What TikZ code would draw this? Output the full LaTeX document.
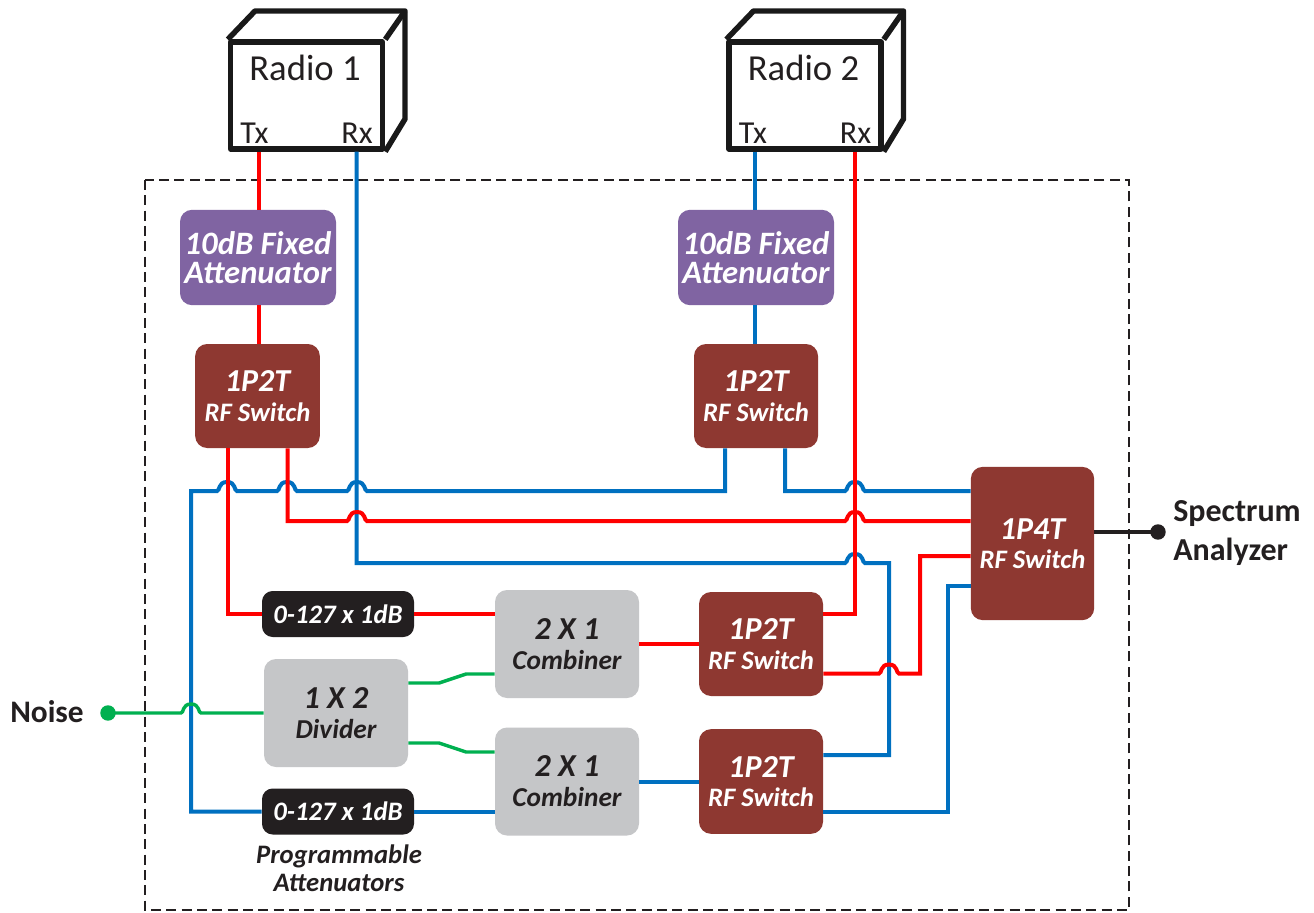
\documentclass[tikz,border=0pt]{standalone}
\usepackage{fontspec}
\setmainfont{Carlito}
\usetikzlibrary{calc}
\definecolor{rfred}{HTML}{FF0000}
\definecolor{rfblue}{HTML}{0070C0}
\definecolor{rfgreen}{HTML}{00B050}
\definecolor{swbrown}{HTML}{8E3831}
\definecolor{attpurple}{HTML}{8064A2}
\definecolor{combgray}{HTML}{C5C6C8}
\definecolor{atblack}{HTML}{231F20}
\newcommand{\fsz}[1]{\fontsize{#1}{#1}\selectfont}
\newcommand{\hopat}[2]{-- (#1-10,#2) .. controls (#1-7,#2) and (#1-9,#2-9) .. (#1,#2-9) .. controls (#1+9,#2-9) and (#1+7,#2) .. (#1+10,#2)}
\tikzset{
  blockbase/.style={inner sep=0pt,rounded corners=9pt,align=center,font=\bfseries\itshape},
  swbox/.style={blockbase,fill=swbrown,text=white},
  fixbox/.style={blockbase,fill=attpurple,text=white,minimum width=117pt,minimum height=71.5pt},
  progbox/.style={blockbase,fill=atblack,text=white,minimum width=114pt,minimum height=34.5pt,rounded corners=8pt},
  graybox/.style={blockbase,fill=combgray,text=atblack,minimum width=108pt,minimum height=81pt},
  radiofront/.style={draw=black!90,line width=4.1pt,fill=white,minimum width=114pt,minimum height=80pt,inner sep=0pt,line join=round},
  radioedge/.style={draw=black!90,line width=4.1pt,line join=round},
  radiotext/.style={inner sep=0pt,text=atblack},
  redw/.style={draw=rfred,line width=3pt,line join=miter},
  bluew/.style={draw=rfblue,line width=3pt,line join=miter},
  greenw/.style={draw=rfgreen,line width=2.6pt,line join=miter},
  dashbox/.style={draw=atblack,line width=1.1pt,dash pattern=on 7.5pt off 4pt},
  boldlabel/.style={inner sep=0pt,align=left,text=atblack,font=\bfseries\fsz{24}},
}
\begin{document}
\begin{tikzpicture}[x=0.75pt,y=-0.75pt]
\useasboundingbox (0,0) rectangle (1314,913);
\fill[white] (0,0) rectangle (1314,913);
\draw[dashbox] (145,180) rectangle (1129,910);

% radios
\node[radiofront] (radioA) at (306.5,95.5) {};
\draw[radioedge] (radioA.north west) -- (255,11) -- (405,11) -- (405,119) -- (radioA.south east);
\draw[radioedge] (radioA.north east) -- (405,11);
\node[radiotext,font=\fsz{27.5}] (radioAname) at (305,68) {Radio 1};
\node[radiotext,font=\fsz{24}] (radioAtx) at (254.5,133) {Tx};
\node[radiotext,font=\fsz{24}] (radioArx) at (357,133) {Rx};

\node[radiofront] (radioB) at (805,95.5) {};
\draw[radioedge] (radioB.north west) -- (753.5,11) -- (903.5,11) -- (903.5,119) -- (radioB.south east);
\draw[radioedge] (radioB.north east) -- (903.5,11);
\node[radiotext,font=\fsz{27.5}] (radioBname) at (803.5,68) {Radio 2};
\node[radiotext,font=\fsz{24}] (radioBtx) at (753,133) {Tx};
\node[radiotext,font=\fsz{24}] (radioBrx) at (855.5,133) {Rx};

% blocks
\node[fixbox] (fixA) at (258,257.5) {\fsz{24.5}10dB Fixed\\[4.5pt]\fsz{24.5}Attenuator};
\node[fixbox] (fixB) at (756,257.5) {\fsz{24.5}10dB Fixed\\[4.5pt]\fsz{24.5}Attenuator};
\node[swbox,minimum width=93.5pt,minimum height=78pt] (swA) at (257.5,396) {\fsz{24}1P2T\\[7pt]\fsz{20}RF Switch};
\node[swbox,minimum width=93pt,minimum height=78pt] (swB) at (756,396) {\fsz{24}1P2T\\[7pt]\fsz{20}RF Switch};
\node[swbox,minimum width=92.5pt,minimum height=115pt] (swMain) at (1032.5,543.5) {\fsz{24}1P4T\\[7pt]\fsz{20}RF Switch};
\node[progbox] (progA) at (338,614) {\fsz{20}0-127 x 1dB};
\node[progbox] (progB) at (338,811.5) {\fsz{20}0-127 x 1dB};
\node[graybox] (combA) at (567,644) {\fsz{24}2 X 1\\[7pt]\fsz{20.5}Combiner};
\node[graybox] (combB) at (567,781.5) {\fsz{24}2 X 1\\[7pt]\fsz{20.5}Combiner};
\node[graybox] (divider) at (336,713) {\fsz{24}1 X 2\\[7pt]\fsz{20.5}Divider};
\node[swbox,minimum width=93pt,minimum height=78pt] (swC) at (761,644) {\fsz{24}1P2T\\[7pt]\fsz{20}RF Switch};
\node[swbox,minimum width=93pt,minimum height=78.5pt] (swD) at (761,781.5) {\fsz{24}1P2T\\[7pt]\fsz{20}RF Switch};

% labels
\node[boldlabel,font=\bfseries\fsz{23.5}] (noiselabel) at (47,712) {Noise};
\node[boldlabel,anchor=west] (specA) at (1173,514) {Spectrum};
\node[boldlabel,anchor=west] (specB) at (1173,552) {Analyzer};
\node[inner sep=0pt,align=center,text=atblack,font=\bfseries\itshape\fsz{20}] (proglabel) at (339,868) {Programmable\\[1pt]Attenuators};

% free ends
\coordinate (noisept) at (108,713);
\coordinate (specpt) at (1158,532);

% blue connectors
\draw[bluew] ($(radioB.south)+(-50,0)$) -- (fixB.north -| 755,0);
\draw[bluew] (fixB.south -| 755,0) -- (swB.north -| 755,0);
\draw[bluew] ($(progB.west)$) -- (191,811.5) -- (191,491) \hopat{227}{491} \hopat{287}{491} \hopat{357}{491} -- (725,491) -- (swB.south -| 725,0);
\draw[bluew] (swB.south -| 785,0) -- (785,491) \hopat{855}{491} -- (swMain.west |- 0,491);
\draw[bluew] (radioA.south -| 356.5,0) -- (356.5,563) \hopat{855}{563} -- (889,563) -- (889,755) -- (swD.east |- 0,755);
\draw[bluew] (swD.east |- 0,811.5) -- (948,811.5) -- (948,586) -- (swMain.west |- 0,586);
\draw[bluew] (progB.east) -- (combB.west |- progB.east);
\draw[bluew] (combB.east) -- (swD.west);

% red connectors
\draw[redw] (radioA.south -| 258.5,0) -- (fixA.north -| 258.5,0);
\draw[redw] (fixA.south -| 258.5,0) -- (swA.north -| 258.5,0);
\draw[redw] (swA.south -| 227.5,0) -- (227.5,614) -- (progA.west);
\draw[redw] (progA.east) -- (combA.west |- progA.east);
\draw[redw] (combA.east) -- (swC.west);
\draw[redw] (swA.south -| 287.5,0) -- (287.5,521) \hopat{357}{521} \hopat{855}{521} -- (swMain.west |- 0,521);
\draw[redw] (radioB.south -| 855,0) -- (855,614) -- (swC.east |- 0,614);
\draw[redw] (swC.east |- 0,673.5) \hopat{889}{673.5} -- (920,673.5) -- (920,556) -- (swMain.west |- 0,556);

% green connectors
\draw[greenw] (noisept) \hopat{191}{713} -- (divider.west);
\draw[greenw] (divider.east |- 0,683) -- (439,683) -- (466,674) -- (combA.west |- 0,674);
\draw[greenw] (divider.east |- 0,743) -- (439,743) -- (466,752) -- (combB.west |- 0,752);
\fill[rfgreen] (noisept) circle (5.8pt);

% analyzer lead
\draw[atblack,line width=2.6pt] (swMain.east |- specpt) -- (specpt);
\fill[atblack] (specpt) circle (5.8pt);
\end{tikzpicture}
\end{document}
